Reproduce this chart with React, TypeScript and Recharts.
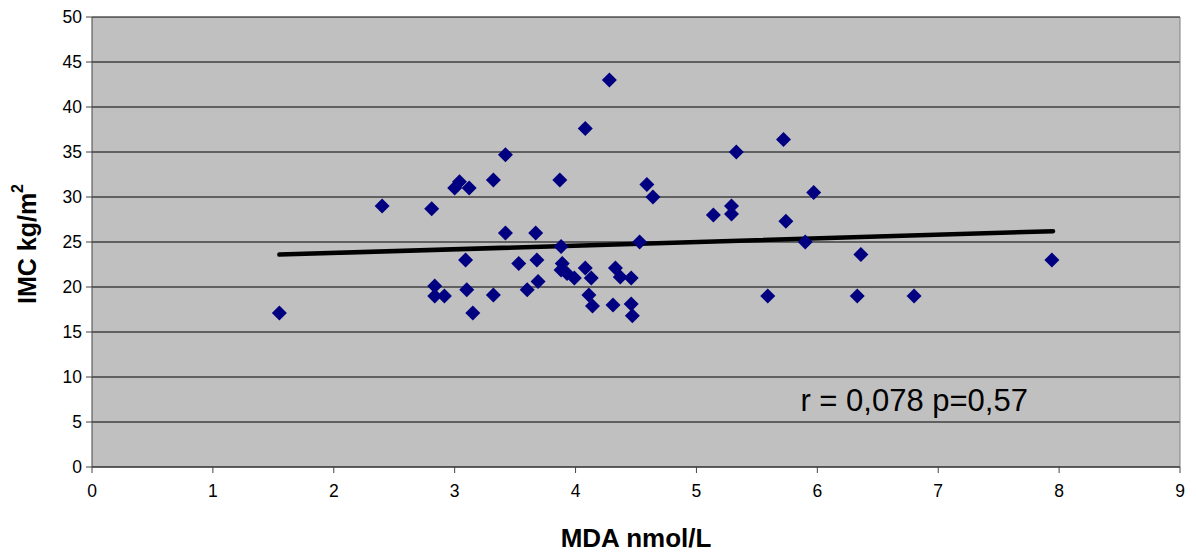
import React from 'react';
import {
  ScatterChart, Scatter, XAxis, YAxis, CartesianGrid, ReferenceLine, ReferenceDot,
} from 'recharts';

const mdaValues = [
  1.55, 2.40, 2.81, 3.04, 3.00, 3.12, 3.32, 3.09, 2.835, 2.835, 2.915, 3.10, 3.32, 3.15,
  4.28, 4.08, 3.42, 3.87, 4.59, 4.64, 3.42, 3.67, 3.88, 4.53, 3.53, 3.68, 3.69, 3.60,
  3.89, 3.88, 3.93, 3.99, 4.08, 4.13, 4.33, 4.37, 4.46, 4.11, 4.14, 4.31, 4.46, 4.47,
  5.33, 5.72, 5.97, 5.14, 5.29, 5.29, 5.74, 5.90, 6.36, 5.59, 6.33, 7.94, 6.80,
];
const imcValues = [
  17.1, 29.0, 28.7, 31.7, 31.0, 31.0, 31.9, 23.0, 20.1, 19.0, 19.0, 19.7, 19.1, 17.1,
  43.0, 37.6, 34.7, 31.9, 31.4, 30.0, 26.0, 26.0, 24.5, 25.0, 22.6, 23.0, 20.6, 19.7,
  22.6, 21.9, 21.5, 21.0, 22.1, 21.0, 22.1, 21.1, 21.0, 19.1, 17.9, 18.0, 18.1, 16.8,
  35.0, 36.4, 30.5, 28.0, 29.0, 28.1, 27.3, 25.0, 23.6, 19.0, 19.0, 23.0, 19.0,
];
const trendX = [1.55, 7.95];
const trendY = [23.6, 26.2];
const xTicks = [0, 1, 2, 3, 4, 5, 6, 7, 8, 9];
const yTicks = [0, 5, 10, 15, 20, 25, 30, 35, 40, 45, 50];
const statsText = 'r = 0,078 p=0,57';

const points = mdaValues.map((x, i) => ({ x, y: imcValues[i] }));

const FONT = 'Liberation Sans, Arial, sans-serif';

const Diamond = (props: any) => {
  const { cx, cy } = props;
  if (cx == null || cy == null) return null;
  const h = 7.5;
  return (
    <polygon
      points={`${cx},${cy - h} ${cx + h},${cy} ${cx},${cy + h} ${cx - h},${cy}`}
      fill="#000080"
    />
  );
};

const YLabel = (props: any) => {
  const vb = props.viewBox || { x: 0, y: 17, width: 92, height: 450 };
  const cx = 27;
  const cy = vb.y + vb.height / 2 + 2;
  return (
    <text
      x={cx}
      y={cy}
      transform={`rotate(-90, ${cx}, ${cy})`}
      textAnchor="middle"
      dominantBaseline="central"
      fontFamily={FONT}
      fontWeight="bold"
      fontSize={25}
      fill="#000"
    >
      IMC kg/m<tspan dy={-10} fontSize={16}>2</tspan>
    </text>
  );
};

const tickStyle = { fontFamily: FONT, fontSize: 17.5, fill: '#000' };

export default function App() {
  return (
    <div style={{ position: 'absolute', left: 0, top: 0, width: 1196, height: 553, background: '#fff' }}>
      <ScatterChart width={1196} height={553} margin={{ top: 17, right: 16, bottom: 0, left: 0 }}>
        <CartesianGrid horizontal vertical={false} stroke="#000" strokeWidth={1} fill="#C0C0C0" />
        <XAxis
          type="number"
          dataKey="x"
          domain={[0, 9]}
          ticks={xTicks}
          interval={0}
          height={86}
          tick={tickStyle}
          tickLine={{ stroke: '#444' }}
          tickSize={6}
          tickMargin={12}
          axisLine={{ stroke: '#444' }}
          label={{
            value: 'MDA nmol/L',
            position: 'insideBottom',
            offset: 6,
            style: { fontFamily: FONT, fontWeight: 'bold', fontSize: 26, fill: '#000' },
          }}
        />
        <YAxis
          type="number"
          dataKey="y"
          domain={[0, 50]}
          ticks={yTicks}
          interval={0}
          width={92}
          tick={tickStyle}
          tickLine={{ stroke: '#444' }}
          tickSize={6}
          tickMargin={4}
          axisLine={{ stroke: '#444' }}
          label={<YLabel />}
        />
        <ReferenceLine x={9} stroke="#808080" strokeWidth={1} />
        <ReferenceLine
          segment={[{ x: trendX[0], y: trendY[0] }, { x: trendX[1], y: trendY[1] }]}
          stroke="#000"
          strokeWidth={4.5}
          strokeLinecap="round"
        />
        <Scatter data={points} shape={<Diamond />} isAnimationActive={false} />
        <ReferenceDot
          x={5.86}
          y={7.4}
          r={0}
          fill="none"
          stroke="none"
          label={{
            value: statsText,
            position: 'right',
            offset: 0,
            style: { fontFamily: FONT, fontSize: 31, fill: '#000' },
          }}
        />
      </ScatterChart>
    </div>
  );
}
